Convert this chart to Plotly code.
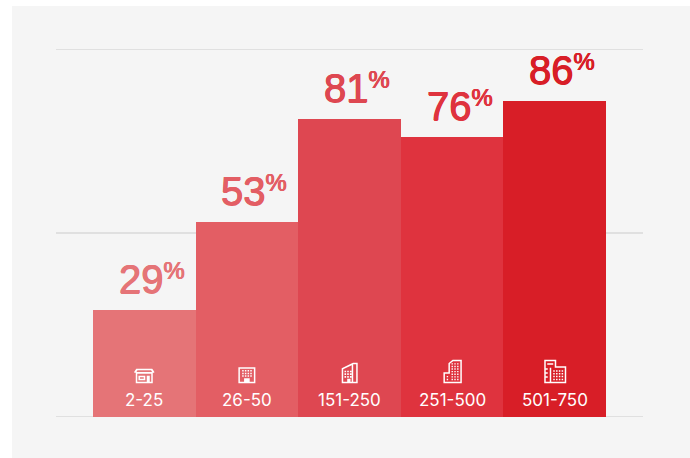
import plotly.graph_objects as go

categories = ["2-25", "26-50", "151-250", "251-500", "501-750"]
values = [29, 53, 81, 76, 86]
bar_colors = ["#E57477", "#E35E64", "#DE4751", "#DF333E", "#D81E27"]
grid_ticks = [0, 50, 100]

LABEL_FONT = "Inter, Liberation Sans, sans-serif"
VALUE_FONT = "Liberation Sans, Arial, sans-serif"
# Pixel-sized icons hang from this axis value, which is the foot of every building.
ICON_BASE = 9.2


def poly(*points):
    # y grows upward here; plotly's pixel-sized shapes use the same direction.
    return "M" + "L".join(f"{x},{y}" for x, y in points) + "Z"


def rect(x0, y0, x1, y1):
    return poly((x0, y0), (x1, y0), (x1, y1), (x0, y1))


def dots(x0, y0, cols, rows, step_x=2.7, step_y=2.7, size=1.5):
    return "".join(
        rect(x0 + c * step_x, y0 + r * step_y, x0 + c * step_x + size, y0 + r * step_y + size)
        for c in range(cols) for r in range(rows)
    )


def heavier(color):
    # Thickens the regular face a little, giving a medium weight.
    return f"0.45px 0 0 {color}, -0.45px 0 0 {color}, 0 0.3px 0 {color}"


# Building glyphs, one per company-size band. Shapes fill even-odd, so nested
# sub-paths alternate between white and see-through.
icons = [
    # shop with an awning
    poly((-8.5, 0), (8.5, 0), (8.5, 10.5), (10, 10.5), (10, 11.3), (8, 14.4),
         (-8, 14.4), (-10, 11.3), (-10, 10.5), (-8.5, 10.5))
    + rect(-7, 1.5, 7, 9.3)
    + poly((-7.8, 11.2), (7.8, 11.2), (6.8, 12.9), (-6.8, 12.9))
    + rect(-5.8, 3, 1, 7.5) + rect(-4.3, 4.5, -0.5, 6)
    + rect(2.5, 1.5, 5.5, 7.5),
    # small office block
    rect(-8.5, 0, 8.5, 16) + rect(-7, 1.5, 7, 14.5)
    + dots(-4.7, 6.3, 4, 3)
    + rect(-2.8, 1.5, 2.8, 5),
    # mid-rise with a slanted roof
    poly((-7.8, 0), (8.2, 0), (8.2, 20.4), (3.5, 20.4), (-7.8, 15))
    + poly((-6.3, 1.5), (2.2, 1.5), (2.2, 18), (-6.3, 14))
    + rect(3.7, 1.5, 6.7, 18.9)
    + dots(-5, 5.5, 3, 3, 2.7, 2.7, 1.6)
    + rect(-2.3, 1.5, 1, 4.5),
    # tower with an annex
    poly((-8.7, 0), (9.7, 0), (9.7, 23.4), (0.5, 23.4), (-3.7, 20), (-3.7, 11), (-8.7, 11))
    + poly((-7.2, 1.5), (8.2, 1.5), (8.2, 21.9), (1, 21.9), (-2.2, 19.3), (-2.2, 9.5), (-7.2, 9.5))
    + dots(-0.6, 3, 3, 7, 2.8, 2.6, 1.4)
    + dots(-5.4, 3, 1, 2, 2.8, 2.8, 1.4),
    # tower beside a wide block
    poly((-10.5, 0), (11.5, 0), (11.5, 17), (1.5, 17), (1.5, 23.4), (-10.5, 23.4))
    + poly((-9, 1.5), (-5, 1.5), (-5, 15.5), (0, 15.5), (0, 21.9), (-9, 21.9))
    + rect(-3.5, 1.5, 10, 15.5)
    + dots(-1.5, 3, 4, 4, 2.8, 2.8, 1.5)
    + rect(-7.5, 18.3, -1.5, 20)
    + rect(-9, 13.5, -7, 15) + rect(-9, 9.5, -7, 11) + rect(-9, 5.5, -7, 7),
]

fig = go.Figure(
    go.Bar(
        x=categories,
        y=values,
        marker=dict(color=bar_colors, line_width=0),
        cliponaxis=False,
        hoverinfo="skip",
    )
)

# Grey panel behind the chart, running off the right and bottom of the page.
shapes = [
    dict(type="rect", xref="paper", yref="paper", x0=-0.075, x1=1.1, y0=-0.13, y1=1.117,
         fillcolor="#F5F5F5", line_width=0, layer="below")
]
for tick in grid_ticks:
    shapes.append(dict(type="line", xref="paper", yref="y", x0=0, x1=1, y0=tick, y1=tick,
                       line=dict(color="#E0E0E0", width=2), layer="below"))
for cat, path in zip(categories, icons):
    shapes.append(dict(
        type="path", xref="x", yref="y", xsizemode="pixel", ysizemode="pixel",
        xanchor=cat, yanchor=ICON_BASE, path=path, fillcolor="white", line_width=0, layer="above",
    ))

annotations = [
    dict(x=cat, y=0, xref="x", yref="y", text=cat, showarrow=False, yanchor="bottom", yshift=5,
         font=dict(family=LABEL_FONT, size=17, color="white"))
    for cat in categories
]
for cat, value, color in zip(categories, values, bar_colors):
    # The base size sets how far and how large the percent sign is raised.
    annotations.append(dict(
        x=cat, y=value, xref="x", yref="y", showarrow=False, yanchor="bottom",
        xshift=7.5, yshift=7,
        text=f'<span style="font-size:40px">{value}</span><sup>%</sup>',
        font=dict(family=VALUE_FONT, size=34, color=color, shadow=heavier(color)),
    ))

fig.update_layout(
    width=690, height=458, autosize=False,
    margin=dict(l=56, r=47, t=49, b=41),
    paper_bgcolor="white", plot_bgcolor="rgba(0,0,0,0)",
    bargap=0, showlegend=False, shapes=shapes, annotations=annotations,
    xaxis=dict(range=[-0.86, 4.86], showticklabels=False, showgrid=False, zeroline=False,
               ticks="", showline=False, type="category"),
    yaxis=dict(range=[0, 100], showticklabels=False, showgrid=False, zeroline=False,
               ticks="", showline=False),
)

fig.write_html("out.html", config=dict(displayModeBar=False))
